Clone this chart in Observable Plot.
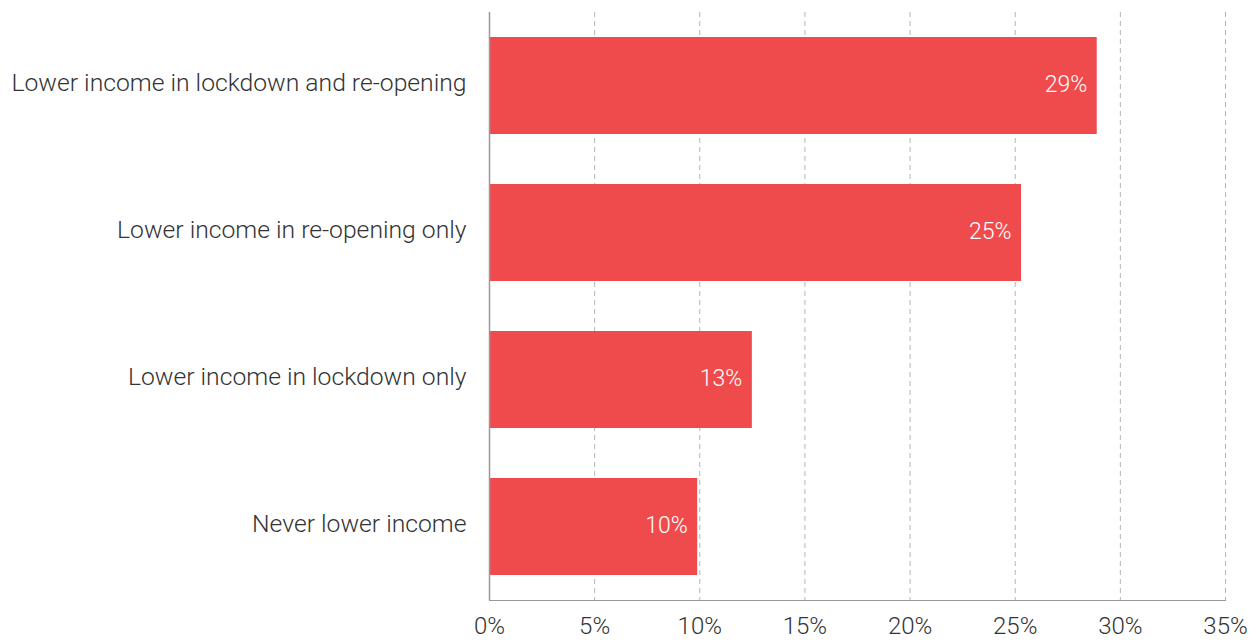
<!DOCTYPE html>
<html>
<head>
<meta charset="utf-8">
<script src="https://cdn.jsdelivr.net/npm/d3@7"></script>
<script src="https://cdn.jsdelivr.net/npm/@observablehq/plot@0.6"></script>
<style>
  html, body { margin: 0; padding: 0; background: #fff; }
  svg { display: block; }
</style>
</head>
<body>
<div id="chart"></div>
<script>
const categories = [
  "Lower income in lockdown and re-opening",
  "Lower income in re-opening only",
  "Lower income in lockdown only",
  "Never lower income"
];
const values = [28.9, 25.3, 12.5, 9.9];
const valueLabels = ["29%", "25%", "13%", "10%"];
const xTicks = [0, 5, 10, 15, 20, 25, 30, 35];
const xTickLabels = ["0%", "5%", "10%", "15%", "20%", "25%", "30%", "35%"];

const data = categories.map((c, i) => ({category: c, value: values[i], label: valueLabels[i]}));

const chart = Plot.plot({
  width: 1256,
  height: 642,
  marginLeft: 489,
  marginRight: 31,
  marginTop: 12,
  marginBottom: 42,
  style: {fontFamily: "Roboto", fontWeight: 300, color: "#999", background: "#fff"},
  x: {domain: [0, 35], axis: "bottom", line: true, ticks: [], tickSize: 0, label: null},
  y: {domain: categories, paddingInner: 0.34, paddingOuter: 0.17, axis: null},
  marks: [
    Plot.ruleX(xTicks.filter(d => d > 0), {stroke: "#b5b5b5", strokeDasharray: "5,4", strokeWidth: 1}),
    Plot.barX(data, {x: "value", y: "category", fill: "#EF4B4D"}),
    Plot.ruleX([0], {stroke: "#999", strokeWidth: 1.5}),
    Plot.text(data, {x: "value", y: "category", text: "label", textAnchor: "end", dx: -10, dy: -1, fill: "#fff", fontSize: 23, fontWeight: 300}),
    Plot.text(data, {x: 0, y: "category", text: "category", textAnchor: "end", dx: -23, dy: -3, fill: "#333", fontSize: 24.7, fontWeight: 300}),
    Plot.text(xTicks, {x: d => d, frameAnchor: "bottom", text: (d, i) => xTickLabels[i], dy: 33, fill: "#333", fontSize: 24, fontWeight: 300})
  ]
});
document.getElementById("chart").appendChild(chart);
</script>
</body>
</html>
